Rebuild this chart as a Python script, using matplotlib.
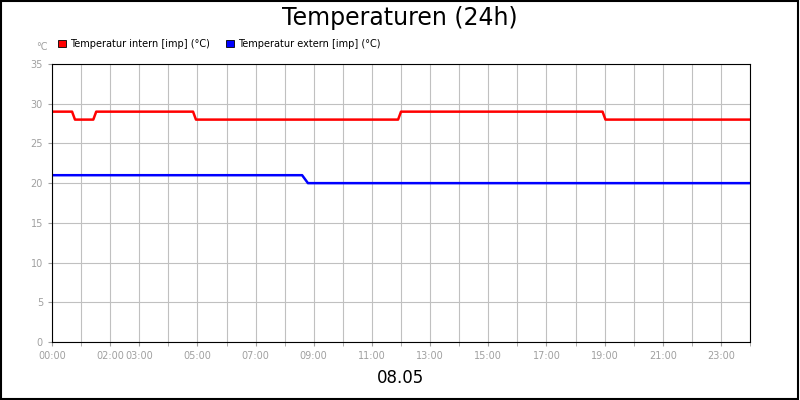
import matplotlib
matplotlib.use("Agg")
import matplotlib.pyplot as plt
from matplotlib.patches import Rectangle

# Stundenwerte (Stunden seit 00:00)
intern_h = [0, 0.69, 0.79, 1.42, 1.52, 4.85, 4.95, 11.9, 12.0, 18.93, 19.03, 24]
intern_t = [29, 29, 28, 28, 29, 29, 28, 28, 29, 29, 28, 28]
extern_h = [0, 8.6, 8.8, 24]
extern_t = [21, 21, 20, 20]
tick_hours = [0, 2, 3, 5, 7, 9, 11, 13, 15, 17, 19, 21, 23]
tick_labels = ["%02d:00" % h for h in tick_hours]

fig = plt.figure(figsize=(8, 4), dpi=100)
fig.patches.append(Rectangle((0.001, 0.002), 0.997, 0.995, transform=fig.transFigure,
                             fill=False, edgecolor="black", linewidth=1.5))
ax = fig.add_axes([0.065, 0.145, 0.8725, 0.695])

ax.plot(intern_h, intern_t, color="#ff0000", linewidth=1.8)
ax.plot(extern_h, extern_t, color="#0000ff", linewidth=1.8)

ax.set_xlim(0, 24)
ax.set_ylim(0, 35)
ax.set_yticks(range(0, 36, 5))
ax.set_xticks(range(0, 25), minor=True)
ax.set_xticks(tick_hours)
ax.set_xticklabels(tick_labels)
ax.grid(True, which="both", axis="x", color="#c0c0c0", linewidth=0.8)
ax.grid(True, which="major", axis="y", color="#c0c0c0", linewidth=0.8)
ax.tick_params(axis="both", which="both", labelsize=7, labelcolor="#a0a0a0",
               color="#a0a0a0", length=3)
for s in ax.spines.values():
    s.set_color("black")

fig.text(0.5, 0.955, "Temperaturen (24h)", ha="center", va="center", fontsize=17)
fig.text(0.052, 0.882, "°C", ha="center", va="center", fontsize=7, color="#a0a0a0")
fig.text(0.5, 0.055, "08.05", ha="center", va="center", fontsize=12)

# Legende
fig.patches.append(Rectangle((0.073, 0.882), 0.009, 0.018, transform=fig.transFigure,
                             facecolor="#ff0000", edgecolor="black", linewidth=0.6))
fig.text(0.087, 0.891, "Temperatur intern [imp] (°C)", va="center", fontsize=7)
fig.patches.append(Rectangle((0.283, 0.882), 0.009, 0.018, transform=fig.transFigure,
                             facecolor="#0000ff", edgecolor="black", linewidth=0.6))
fig.text(0.297, 0.891, "Temperatur extern [imp] (°C)", va="center", fontsize=7)

fig.savefig("out.png", dpi=100)
